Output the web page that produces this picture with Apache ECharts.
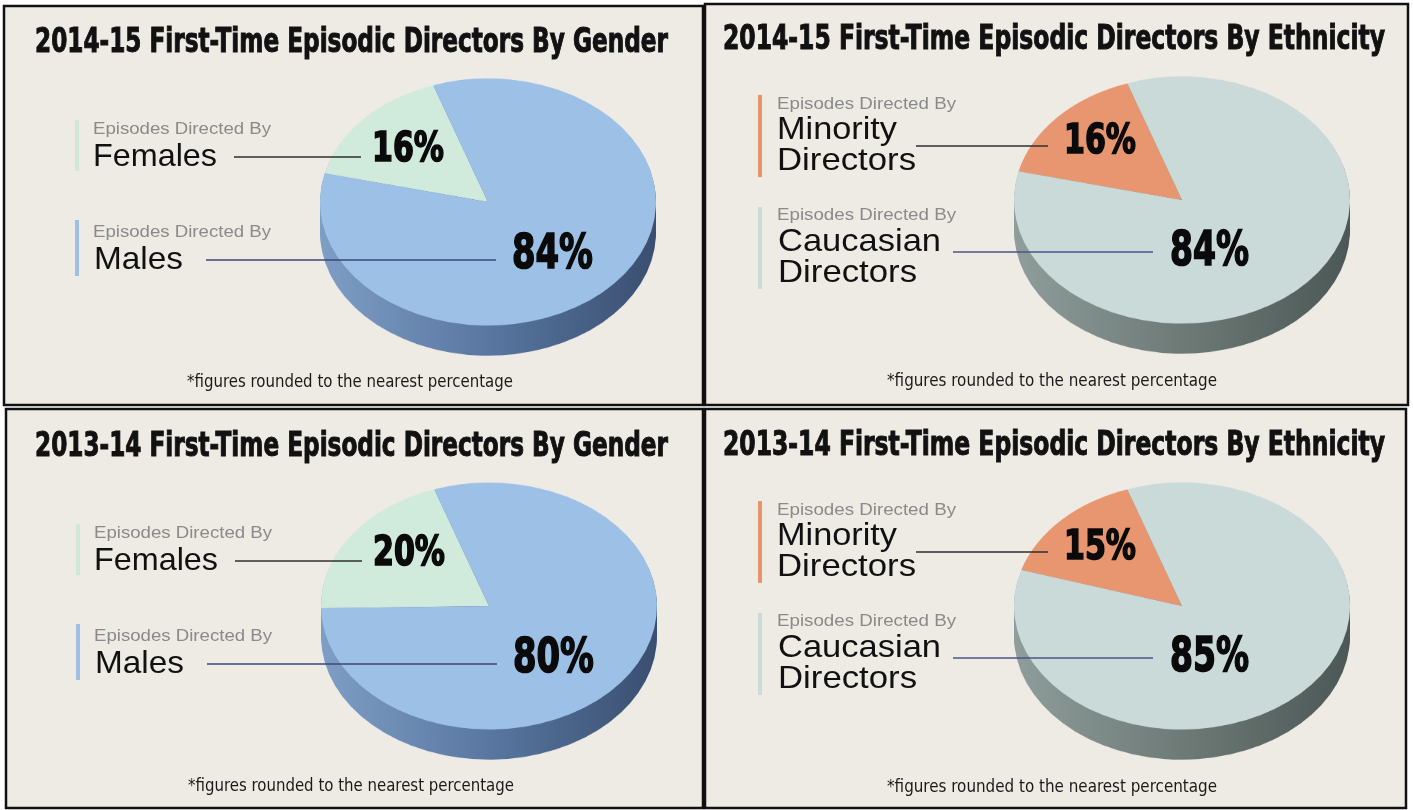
<!DOCTYPE html>
<html>
<head>
<meta charset="utf-8">
<title>First-Time Episodic Directors</title>
<script src="https://cdn.jsdelivr.net/npm/echarts@6/dist/echarts.min.js"></script>
<style>
html, body { margin: 0; padding: 0; background: #fff; }
#wrap { position: relative; width: 1413px; height: 810px; overflow: hidden; }
.layer { position: absolute; left: 0; top: 0; width: 1413px; height: 810px; }
#bg { z-index: 1; }
#overlay { z-index: 3; pointer-events: none; }
.pie { position: absolute; z-index: 2; width: 400px; height: 420px; transform-origin: 200px 200px; transform: scaleY(0.735); }
</style>
</head>
<body>
<div id="wrap">
	<div id="bg" class="layer"></div>
	<div id="overlay" class="layer"></div>
</div>
<script>
// data
var titles = [
	'2014-15 First-Time Episodic Directors By Gender',
	'2014-15 First-Time Episodic Directors By Ethnicity',
	'2013-14 First-Time Episodic Directors By Gender',
	'2013-14 First-Time Episodic Directors By Ethnicity'
];
var genderNames = ['Females', 'Males'];
var ethnicityNames = ['Minority Directors', 'Caucasian Directors'];
var gender1415 = [16, 84];
var ethnicity1415 = [16, 84];
var gender1314 = [20, 80];
var ethnicity1314 = [15, 85];
var subLabel = 'Episodes Directed By';
var footnote = '*figures rounded to the nearest percentage';

// styles
var styles = {
	gender : {
		top : [ '#d0eadb', '#9cc0e6' ],
		bars : [ '#cfe8d9', '#9bbfe5' ],
		side : [ '#7f9ec6', '#55739c', '#3a4f70' ],
		lines : [ '#2f2f2f', '#3b4679' ]
	},
	ethnicity : {
		top : [ '#e8966f', '#c9dad8' ],
		bars : [ '#e8946c', '#cbdbd8' ],
		side : [ '#8f9d9b', '#6a7773', '#4c5855' ],
		lines : [ '#2f2f2f', '#4a5488' ]
	}
};

// layout templates (absolute coords of the top row panels)
var layouts = {
	gender : {
		title : { x : 35, w : 633, y : 43 },
		bars : [ { x : 75, y1 : 120, y2 : 171 }, { x : 75, y1 : 220, y2 : 276 } ],
		sub : { x : 93, w : 178, y : [ 129, 232 ] },
		names : [ { x : 93, y : [ 157 ], w : [ 124 ] }, { x : 94, y : [ 260 ], w : [ 89 ] } ],
		lines : [ { x1 : 234, x2 : 361, y : 157 }, { x1 : 206, x2 : 496, y : 260 } ],
		pct : [ { x : 372, w : 72, y : 151, size : 40 }, { x : 512, w : 81, y : 256, size : 48 } ],
		pie : { cx : 488, cy : 202 },
		foot : { cx : 350, w : 326, y : 383 }
	},
	ethnicity : {
		title : { x : 723, w : 662, y : 40 },
		bars : [ { x : 758, y1 : 95, y2 : 177 }, { x : 758, y1 : 207, y2 : 289 } ],
		sub : { x : 777, w : 179, y : [ 104, 215 ] },
		names : [ { x : 777, y : [ 130, 161 ], w : [ 120, 139 ] }, { x : 778, y : [ 242, 273 ], w : [ 163, 139 ] } ],
		lines : [ { x1 : 916, x2 : 1048, y : 146 }, { x1 : 953, x2 : 1153, y : 252 } ],
		pct : [ { x : 1064, w : 72, y : 143, size : 40 }, { x : 1170, w : 79, y : 253, size : 48 } ],
		pie : { cx : 1182, cy : 200 },
		foot : { cx : 1052, w : 330, y : 382 }
	}
};

var panels = [
	{ kind : 'gender', title : titles[0], names : genderNames, values : gender1415, dx : 0, dy : 0, rect : [ 4, 6, 699, 399 ] },
	{ kind : 'ethnicity', title : titles[1], names : ethnicityNames, values : ethnicity1415, dx : 0, dy : 0, rect : [ 705, 4, 703, 401 ] },
	{ kind : 'gender', title : titles[2], names : genderNames, values : gender1314, dx : 1, dy : 404, rect : [ 6, 409, 697, 399 ] },
	{ kind : 'ethnicity', title : titles[3], names : ethnicityNames, values : ethnicity1314, dx : 0, dy : 406, rect : [ 705, 409, 701, 399 ] }
];

var FONT_COND = "'DejaVu Sans Condensed', 'Liberation Sans Narrow', sans-serif";
var FONT_SANS = "'Liberation Sans', Arial, sans-serif";

var measureCtx = document.createElement('canvas').getContext('2d');

// text squeezed to the width it has in the picture
function textEl(text, x, y, font, color, width, align, strokeW) {
	measureCtx.font = font;
	var sx = width ? width / measureCtx.measureText(text).width : 1;
	var el = {
		type : 'text',
		x : x,
		y : y,
		scaleX : sx,
		silent : true,
		style : {
			text : text,
			font : font,
			fill : color,
			textAlign : align || 'left',
			textVerticalAlign : 'middle'
		}
	};
	if (strokeW) {
		el.style.stroke = color;
		el.style.lineWidth = strokeW;
	}
	return el;
}

// background panels
var bgChart = echarts.init(document.getElementById('bg'));
var bgElements = [];
panels.forEach(function(p) {
	bgElements.push({
		type : 'rect',
		silent : true,
		shape : { x : p.rect[0], y : p.rect[1], width : p.rect[2], height : p.rect[3] },
		style : { fill : '#eeebe5', stroke : '#111', lineWidth : 2.5 }
	});
});
bgChart.setOption({
	backgroundColor : '#ffffff',
	animation : false,
	graphic : { elements : bgElements }
});

// pies: stacked dark layers make the side, top layer is the face
function pieOption(values, names, st) {
	var series = [];
	var depth = 41;
	var sideColor = new echarts.graphic.LinearGradient(0, 0, 1, 0, [
		{ offset : 0, color : st.side[0] },
		{ offset : 0.55, color : st.side[1] },
		{ offset : 1, color : st.side[2] }
	]);
	for (var off = depth; off > 0; off -= 4) {
		series.push({
			type : 'pie',
			silent : true,
			radius : [ 0, 168 ],
			center : [ 200, 200 + off ],
			startAngle : 109,
			clockwise : false,
			label : { show : false },
			labelLine : { show : false },
			itemStyle : { color : sideColor, borderWidth : 0 },
			data : values.map(function(v, i) {
				return { value : v, name : names[i] };
			})
		});
	}
	series.push({
		type : 'pie',
		silent : true,
		radius : [ 0, 168 ],
		center : [ 200, 200 ],
		startAngle : 109,
		clockwise : false,
		label : { show : false },
		labelLine : { show : false },
		itemStyle : { borderWidth : 0 },
		data : values.map(function(v, i) {
			return { value : v, name : names[i], itemStyle : { color : st.top[i] } };
		})
	});
	return { animation : false, series : series };
}

var wrap = document.getElementById('wrap');
panels.forEach(function(p) {
	var L = layouts[p.kind];
	var div = document.createElement('div');
	div.className = 'pie';
	div.style.left = (L.pie.cx + p.dx - 200) + 'px';
	div.style.top = (L.pie.cy + p.dy - 200) + 'px';
	wrap.appendChild(div);
	echarts.init(div).setOption(pieOption(p.values, p.names, styles[p.kind]));
});

// overlay texts and leader lines
var els = [];
panels.forEach(function(p) {
	var L = layouts[p.kind], st = styles[p.kind];
	var dx = p.dx, dy = p.dy;
	els.push(textEl(p.title, L.title.x, L.title.y + dy, 'bold 34px ' + FONT_COND, '#111', L.title.w, 'left', 1));
	for (var i = 0; i < 2; i++) {
		var b = L.bars[i];
		els.push({
			type : 'rect',
			silent : true,
			shape : { x : b.x + dx, y : b.y1 + dy, width : 4, height : b.y2 - b.y1 },
			style : { fill : st.bars[i] }
		});
		els.push(textEl(subLabel, L.sub.x + dx, L.sub.y[i] + dy, '17px ' + FONT_SANS, '#8a8a8a', L.sub.w, 'left'));
		var parts = L.names[i].y.length > 1 ? p.names[i].split(' ') : [ p.names[i] ];
		parts.forEach(function(t, k) {
			els.push(textEl(t, L.names[i].x + dx, L.names[i].y[k] + dy, '32px ' + FONT_SANS, '#111', L.names[i].w[k], 'left'));
		});
		var ln = L.lines[i];
		els.push({
			type : 'line',
			silent : true,
			shape : { x1 : ln.x1 + dx, y1 : ln.y + dy, x2 : ln.x2 + dx, y2 : ln.y + dy },
			style : { stroke : st.lines[i], lineWidth : 1.6 }
		});
		var pc = L.pct[i];
		els.push(textEl(p.values[i] + '%', pc.x + dx, pc.y + dy, 'bold ' + pc.size + 'px ' + FONT_COND, '#0a0a0a', pc.w, 'left', 1.6));
	}
	els.push(textEl(footnote, L.foot.cx + dx, L.foot.y + dy, '17px ' + FONT_COND, '#1a1a1a', L.foot.w, 'center'));
});

var overlay = echarts.init(document.getElementById('overlay'));
overlay.setOption({
	animation : false,
	graphic : { elements : els }
});
</script>
</body>
</html>
